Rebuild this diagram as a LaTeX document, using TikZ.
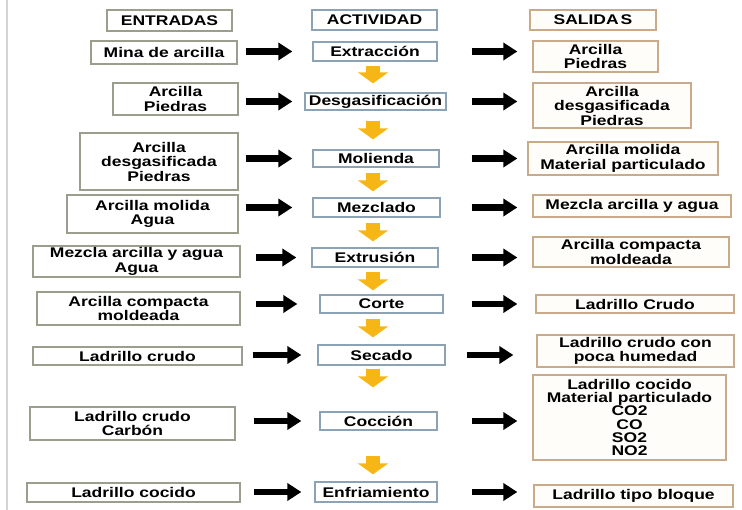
\documentclass[tikz,border=0pt]{standalone}
\usepackage{fontspec}
\setmainfont{Liberation Sans}[FakeStretch=1.25]
\usetikzlibrary{arrows.meta}
\definecolor{lcol}{HTML}{9A9E8C}
\definecolor{mcol}{HTML}{8CA3B6}
\definecolor{rcol}{HTML}{C9AA8B}
\definecolor{rfill}{HTML}{FFFDF9}
\definecolor{ycol}{HTML}{F6B716}
\definecolor{gline}{HTML}{D4D4D4}
\begin{document}
\begin{tikzpicture}[x=1pt,y=-1pt,
  every node/.style={font=\fontsize{14}{14.5}\selectfont\bfseries, align=center, inner sep=0pt, line width=1.3pt},
  sz/.style 2 args={minimum width=#1pt, minimum height=#2pt},
  lbox/.style={draw=lcol, fill=white},
  mbox/.style={draw=mcol, fill=white},
  rbox/.style={draw=rcol, fill=rfill},
  blk/.style={line width=6.5pt, -{Triangle[length=14pt,width=17pt]}},
  yarr/.style={draw=ycol, line width=14pt, -{Triangle[length=11pt,width=30pt]}}]
\useasboundingbox (0,0) rectangle (742,510);
\draw[gline, line width=2pt] (7,0) -- (7,510);
\coordinate (col) at (373,0);
% headers
\node[lbox, sz={125}{21}] (he) at (169.5,20.5) {ENTRADAS};
\node[mbox, sz={125}{20}] (ha) at (374.5,20) {ACTIVIDAD};
\node[rbox, sz={126}{20}] (hs) at (593,20) {SALIDA\kern2pt S};
% left
\node[lbox, sz={146}{23}] (l1) at (164,52.5) {Mina de arcilla};
\node[lbox, sz={125}{32}] (l2) at (175.5,99) {Arcilla\\Piedras};
\node[lbox, sz={158}{57}] (l3) at (159,161.5) {Arcilla\\desgasificada\\Piedras};
\node[lbox, sz={171}{38}] (l4) at (152.5,214) {Arcilla molida\\Agua};
\node[lbox, sz={207}{31}] (l5) at (136.5,261.5) {Mezcla arcilla y agua\\Agua};
\node[lbox, sz={203}{33}] (l6) at (138.5,308.5) {Arcilla compacta\\moldeada};
\node[lbox, sz={209}{18}] (l7) at (137.5,356) {Ladrillo crudo};
\node[lbox, sz={205}{33}] (l8) at (132.5,423.5) {Ladrillo crudo\\Carbón};
\node[lbox, sz={213}{19}] (l9) at (133.5,492.5) {Ladrillo cocido};
% middle
\node[mbox, sz={124}{19}] (m1) at (375,51.5) {Extracción};
\node[mbox, sz={141}{17}] (m2) at (375.5,101.5) {Desgasificación};
\node[mbox, sz={126}{17}] (m3) at (376,158.5) {Molienda};
\node[mbox, sz={127}{19}] (m4) at (376.5,207.5) {Mezclado};
\node[mbox, sz={126}{19}] (m5) at (375,257.5) {Extrusión};
\node[mbox, sz={123}{18}] (m6) at (381.5,304) {Corte};
\node[mbox, sz={127}{20}] (m7) at (381.5,355) {Secado};
\node[mbox, sz={117}{18}] (m8) at (378.5,421) {Cocción};
\node[mbox, sz={122}{20}] (m9) at (376,492) {Enfriamiento};
% right
\node[rbox, sz={125}{31}] (r1) at (595.5,56.5) {Arcilla\\Piedras};
\node[rbox, sz={158}{45}] (r2) at (612,105.5) {Arcilla\\desgasificada\\Piedras};
\node[rbox, sz={190}{33}] (r3) at (623,158.5) {Arcilla molida\\Material particulado};
\node[rbox, sz={198}{22}] (r4) at (632,206) {Mezcla arcilla y agua};
\node[rbox, sz={196}{30}] (r5) at (631,252) {Arcilla compacta\\moldeada};
\node[rbox, sz={198}{18}] (r6) at (635,304) {Ladrillo Crudo};
\node[rbox, sz={197}{32}] (r7) at (635.5,351) {Ladrillo crudo con\\poca humedad};
\node[rbox, sz={193}{85}, font=\fontsize{14}{13.3}\selectfont\bfseries] (r8) at (629.5,417.5) {Ladrillo cocido\\Material particulado\\CO2\\CO\\SO2\\NO2};
\node[rbox, sz={199}{22}] (r9) at (633.5,496) {Ladrillo tipo bloque};
% black arrows left
\draw[blk] ([xshift=8pt]l1.east |- m1) -- ([xshift=-20pt]m1.west);
\draw[blk] ([xshift=7pt]l2.east |- m2) -- ([xshift=-12pt]m2.west);
\draw[blk] ([xshift=7pt]l3.east |- m3) -- ([xshift=-20pt]m3.west);
\draw[blk] ([xshift=7pt]l4.east |- m4) -- ([xshift=-20pt]m4.west);
\draw[blk] ([xshift=15pt]l5.east |- m5) -- ([xshift=-15pt]m5.west);
\draw[blk] ([xshift=15pt]l6.east |- m6) -- ([xshift=-22pt]m6.west);
\draw[blk] ([xshift=10pt]l7.east |- m7) -- ([xshift=-16pt]m7.west);
\draw[blk] ([xshift=18pt]l8.east |- m8) -- ([xshift=-18pt]m8.west);
\draw[blk] ([xshift=13pt]l9.east |- m9) -- ([xshift=-13pt]m9.west);
% black arrows right
\draw[blk] ([xshift=34pt]m1.east) -- ([xshift=-15pt]r1.west |- m1);
\draw[blk] ([xshift=25pt]m2.east) -- ([xshift=-15pt]r2.west |- m2);
\draw[blk] ([xshift=32pt]m3.east) -- ([xshift=-10pt]r3.west |- m3);
\draw[blk] ([xshift=31pt]m4.east) -- ([xshift=-15pt]r4.west |- m4);
\draw[blk] ([xshift=33pt]m5.east) -- ([xshift=-15pt]r5.west |- m5);
\draw[blk] ([xshift=28pt]m6.east) -- ([xshift=-18pt]r6.west |- m6);
\draw[blk] ([xshift=21pt]m7.east) -- ([xshift=-23pt]r7.west |- m7);
\draw[blk] ([xshift=34pt]m8.east) -- ([xshift=-15pt]r8.west |- m8);
\draw[blk] ([xshift=34pt]m9.east) -- ([xshift=-16pt]r9.west |- m9);
% yellow arrows
\draw[yarr] ([yshift=-4pt]m1.south -| col) -- ([yshift=9pt]m2.north -| col);
\draw[yarr] ([yshift=-10pt]m2.south -| col) -- ([yshift=10pt]m3.north -| col);
\draw[yarr] ([yshift=-5pt]m3.south -| col) -- ([yshift=6pt]m4.north -| col);
\draw[yarr] ([yshift=-5pt]m4.south -| col) -- ([yshift=6pt]m5.north -| col);
\draw[yarr] ([yshift=-4pt]m5.south -| col) -- ([yshift=4pt]m6.north -| col);
\draw[yarr] ([yshift=-5pt]m6.south -| col) -- ([yshift=7pt]m7.north -| col);
\draw[yarr] ([yshift=-3pt]m7.south -| col) -- ([yshift=24pt]m8.north -| col);
\draw[yarr] ([yshift=-25pt]m8.south -| col) -- ([yshift=7pt]m9.north -| col);
\end{tikzpicture}
\end{document}
